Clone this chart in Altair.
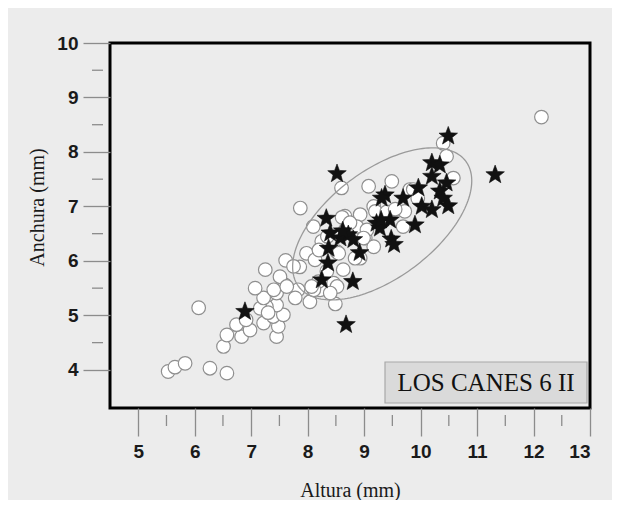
import altair as alt
import numpy as np
import pandas as pd

# --- data ---
circle_x = [5.53, 5.65, 5.83, 6.27, 6.57, 6.07, 6.51, 6.57, 6.83, 6.74, 6.98, 6.91,
            7.22, 7.45, 7.48, 7.39, 7.57, 7.45, 7.27, 7.16, 7.22, 7.45, 7.07, 7.60,
            7.51, 7.25, 7.61, 7.86, 7.98, 7.83, 7.78, 8.04, 8.22, 8.46, 8.19, 8.49,
            8.11, 7.75, 7.40, 8.13, 8.10, 7.87, 8.25, 8.66, 8.93, 8.87, 8.52, 8.63,
            8.34, 8.07, 8.52, 8.40, 8.93, 8.60, 9.02, 9.08, 9.49, 9.81, 9.17, 9.72,
            9.69, 9.05, 9.17, 8.67, 8.99, 10.40, 10.46, 10.58, 9.87, 12.14, 9.20,
            8.84, 8.55, 8.35, 9.40, 8.61, 7.63, 7.30, 8.75, 9.55, 8.20, 9.95]
circle_y = [3.97, 4.05, 4.12, 4.03, 3.94, 5.14, 4.43, 4.64, 4.61, 4.83, 4.73, 4.92,
            4.86, 4.61, 4.80, 4.98, 5.01, 5.19, 5.16, 5.13, 5.32, 5.41, 5.50, 5.56,
            5.71, 5.84, 6.01, 5.89, 6.14, 5.47, 5.32, 5.25, 5.47, 5.59, 5.62, 5.21,
            5.47, 5.90, 5.47, 6.02, 6.63, 6.97, 6.36, 6.82, 6.85, 6.63, 6.17, 5.84,
            5.81, 5.53, 5.53, 5.41, 6.05, 7.34, 6.42, 7.37, 7.46, 7.31, 7.00, 6.91,
            6.63, 6.57, 6.26, 6.57, 6.42, 8.16, 7.92, 7.52, 7.31, 8.64, 6.91,
            6.05, 6.14, 6.45, 6.90, 6.80, 5.53, 5.05, 6.70, 6.95, 6.20, 7.15]

star_x = [10.49, 11.32, 8.52, 10.20, 10.34, 10.20, 9.96, 10.46, 10.34, 10.40,
          10.02, 10.20, 10.49, 9.69, 9.90, 9.37, 9.31, 9.46, 9.22, 9.28, 9.48,
          9.53, 9.30, 8.33, 8.40, 8.58, 8.72, 8.81, 8.37, 8.92, 8.36, 8.25, 8.80,
          8.68, 6.89, 8.62]
star_y = [8.29, 7.58, 7.60, 7.80, 7.76, 7.55, 7.34, 7.43, 7.28, 7.15,
          7.00, 6.94, 7.01, 7.15, 6.66, 7.21, 7.15, 6.75, 6.69, 6.60, 6.40,
          6.30, 6.75, 6.78, 6.51, 6.42, 6.48, 6.39, 6.23, 6.15, 5.96, 5.65, 5.62,
          4.83, 5.07, 6.55]

x_ticks = [5, 6, 7, 8, 9, 10, 11, 12, 13]
y_ticks = [4, 5, 6, 7, 8, 9, 10]
x_minor = [5.5, 6.5, 7.5, 8.5, 9.5, 10.5, 11.5, 12.5]
y_minor = [4.5, 5.5, 6.5, 7.5, 8.5, 9.5]

ellipse_center = (9.32, 6.68)
ellipse_major = (1.48, 1.15)
ellipse_minor = (-0.57, 0.79)

box_label = "LOS CANES 6 II"
x_title = "Altura (mm)"
y_title = "Anchura (mm)"

STAR_PATH = ("M0,-1L0.247,-0.34L0.951,-0.309L0.399,0.13L0.588,0.809L0,0.42"
             "L-0.588,0.809L-0.399,0.13L-0.951,-0.309L-0.247,-0.34Z")

# --- tables ---
circles = pd.DataFrame({"x": circle_x, "y": circle_y})
stars = pd.DataFrame({"x": star_x, "y": star_y})
t = np.linspace(0, 2 * np.pi, 181)
ellipse = pd.DataFrame({
    "t": np.arange(len(t)),
    "x": ellipse_center[0] + ellipse_major[0] * np.cos(t) + ellipse_minor[0] * np.sin(t),
    "y": ellipse_center[1] + ellipse_major[1] * np.cos(t) + ellipse_minor[1] * np.sin(t),
})
xminor_df = pd.DataFrame({"x": x_minor})
yminor_df = pd.DataFrame({"y": y_minor})
one = pd.DataFrame({"a": [0]})

W, H = 480, 365
tick_col = "#8c8c8c"

xs = alt.Scale(domain=[4.5, 13], nice=False, zero=False)
ys = alt.Scale(domain=[3.3, 10], nice=False, zero=False)

x_axis = alt.Axis(values=x_ticks, title=x_title, domain=False, grid=False,
                  tickSize=28, tickColor=tick_col, tickWidth=1.3,
                  labelFont="Liberation Sans", labelFontSize=19, labelColor="#1a1a1a",
                  labelPadding=6, labelFontWeight="bold",
                  titleFont="Liberation Serif", titleFontSize=20,
                  titleFontWeight="normal", titleColor="#1a1a1a",
                  titleY=82, titleBaseline="middle")
y_axis = alt.Axis(values=y_ticks, title=y_title, domain=False, grid=False,
                  tickSize=27, tickColor=tick_col, tickWidth=1.3,
                  labelFont="Liberation Sans", labelFontSize=19, labelColor="#1a1a1a",
                  labelPadding=5, labelFontWeight="bold",
                  titleFont="Liberation Serif", titleFontSize=20,
                  titleFontWeight="normal", titleColor="#1a1a1a",
                  titleAngle=270, titleX=-73, titleY=164,
                  titleAlign="center", titleBaseline="middle")

X = alt.X("x:Q", scale=xs, axis=x_axis)
Y = alt.Y("y:Q", scale=ys, axis=y_axis)

circ_layer = alt.Chart(circles).mark_point(
    shape="circle", fill="white", stroke="#8f8f8f", strokeWidth=1.2,
    size=185, opacity=1, fillOpacity=1
).encode(x=X, y=Y)

ell_layer = alt.Chart(ellipse).mark_line(
    color="#9a9a9a", strokeWidth=1.3
).encode(x=X, y=Y, order="t:Q")

star_layer = alt.Chart(stars).mark_point(
    shape=STAR_PATH, fill="#111111", stroke="#111111", strokeWidth=0.6,
    size=380, opacity=1, fillOpacity=1
).encode(x=X, y=Y)

xminor_layer = alt.Chart(xminor_df).mark_rule(
    color=tick_col, strokeWidth=1.3
).encode(x=X, y=alt.value(H + 7), y2=alt.value(H + 18))

yminor_layer = alt.Chart(yminor_df).mark_rule(
    color=tick_col, strokeWidth=1.3
).encode(y=Y, x=alt.value(-18), x2=alt.value(-7))

box_layer = alt.Chart(one).mark_rect(
    fill="#dadada", stroke="#a8a8a8", strokeWidth=1.2
).encode(x=alt.value(275), x2=alt.value(477), y=alt.value(319), y2=alt.value(360))

text_layer = alt.Chart(one).mark_text(
    font="Liberation Serif", fontSize=25, color="#111111",
    align="center", baseline="middle"
).encode(x=alt.value(376), y=alt.value(340), text=alt.value(box_label))

chart = alt.layer(
    xminor_layer, yminor_layer, circ_layer, ell_layer, star_layer, box_layer, text_layer
).properties(
    width=W, height=H,
    background="#ececec",
    padding={"left": 102, "top": 35, "right": 22, "bottom": 92},
    autosize=alt.AutoSizeParams(type="none"),
).configure_view(
    stroke="black", strokeWidth=3
)

chart.save("out.html", embed_options={"renderer": "svg", "actions": False})
